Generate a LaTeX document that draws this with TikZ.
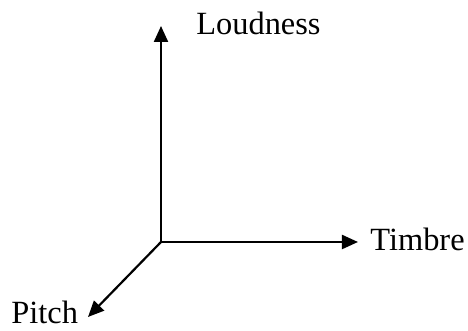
\documentclass[tikz,border=0pt]{standalone}
\usepackage{fontspec}
\setmainfont{Liberation Serif}
\usetikzlibrary{arrows.meta, positioning}

\tikzset{
  axis/.style={line width=1.1pt, -{Triangle[length=8pt, width=7pt]}},
  axislabel/.style={inner sep=0pt, font=\fontsize{16.2}{19}\selectfont}
}

\begin{document}
\begin{tikzpicture}[x=0.5pt, y=-0.5pt]
\useasboundingbox (0,0) rectangle (468,331);
\coordinate (o) at (161,242);
\coordinate (up) at (161,26);
\coordinate (right) at (358,242);
\coordinate (down) at (88,317);
\draw[axis] (o) -- (up);
\draw[axis] (o) -- (right);
\draw[axis] (o) -- (down);
\node[axislabel, anchor=base west] (loud) at (196,35) {Loudness};
\node[axislabel, anchor=base west] (timbre) at (370,251) {Timbre};
\node[axislabel, anchor=base west] (pitch) at (11,324) {Pitch};
\end{tikzpicture}
\end{document}
